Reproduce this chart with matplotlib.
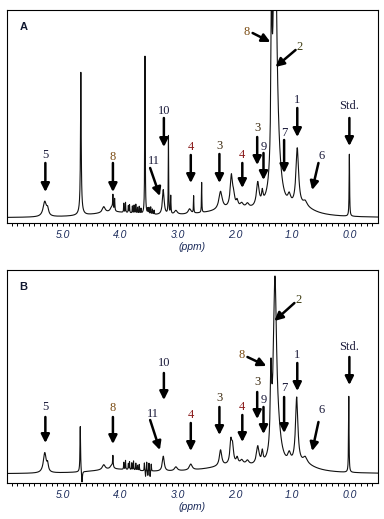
import matplotlib
matplotlib.use('Agg')
import matplotlib.pyplot as plt
import numpy as np

# Peak tables: position (ppm), height, half width (ppm)
a_ppm = [4.1, 2.0, 0.8,
         5.32, 5.27, 4.69, 4.69, 4.29, 4.15, 4.13, 4.10,
         3.94, 3.91, 3.86, 3.84, 3.79, 3.76, 3.73, 3.70, 3.67, 3.64,
         3.57, 3.52, 3.50, 3.47, 3.44, 3.41,
         3.25, 3.16, 3.12, 3.03, 2.79, 2.72, 2.58,
         2.25, 2.06, 2.02, 1.96, 1.88, 1.78,
         1.60, 1.52, 1.36, 1.30, 1.25, 1.05, 0.91, 0.77, 0.0]
a_height = [5, 8, 7,
            15, 6, 135, 8, 6, 5, 14, 12,
            9, 10, 7, 8, 7, 8, 9, 6, 7, 5,
            158, 5, 6, 7, 5, 4,
            25, 78, 18, 4, 5, 17, 30,
            18, 32, 9, 6, 4, 4,
            24, 11, 150, 300, 25, 9, 58, 5, 62]
a_width = [0.5, 0.6, 0.25,
           0.035, 0.02, 0.007, 0.03, 0.03, 0.03, 0.005, 0.005,
           0.004, 0.004, 0.004, 0.004, 0.004, 0.004, 0.004, 0.004, 0.004, 0.004,
           0.005, 0.004, 0.004, 0.004, 0.004, 0.004,
           0.018, 0.004, 0.005, 0.03, 0.03, 0.004, 0.004,
           0.035, 0.025, 0.02, 0.02, 0.03, 0.03,
           0.028, 0.015, 0.012, 0.035, 0.07, 0.03, 0.028, 0.04, 0.005]

b_ppm = [4.1, 2.0, 0.8,
         5.32, 5.27, 4.70, 4.67, 4.29, 4.15, 4.13,
         3.94, 3.91, 3.86, 3.84, 3.80, 3.77, 3.73, 3.70, 3.67,
         3.58, 3.56, 3.54, 3.52, 3.50, 3.48, 3.46,
         3.25, 3.03, 2.77,
         2.25, 2.07, 2.04, 1.96, 1.88, 1.78,
         1.60, 1.52, 1.37, 1.30, 1.25, 1.05, 0.92, 0.77, 0.01]
b_height = [4, 8, 7,
            20, 7, 46, -12, 5, 4, 11,
            7, 9, 6, 8, 7, 9, 7, 5, 6,
            8, -6, 9, -5, 8, -6, 7,
            15, 4, 6,
            16, 22, 16, 6, 4, 4,
            18, 11, 72, 173, 25, 9, 66, 6, 76]
b_width = [0.5, 0.6, 0.25,
           0.03, 0.015, 0.006, 0.008, 0.03, 0.03, 0.005,
           0.004, 0.004, 0.004, 0.004, 0.004, 0.004, 0.004, 0.004, 0.004,
           0.004, 0.004, 0.004, 0.004, 0.004, 0.004, 0.004,
           0.02, 0.03, 0.03,
           0.025, 0.02, 0.02, 0.02, 0.03, 0.03,
           0.028, 0.015, 0.014, 0.033, 0.07, 0.03, 0.025, 0.04, 0.005]

# Assignment labels
labels = ['5', '8', '11', '10', '4', '3', '4', '3', '9', '8', '2', '7', '1', '6', 'Std.']
label_colors = ['#1a1a3a', '#7a4a10', '#1a1a3a', '#1a1a3a', '#8b1c1c', '#3d2b10',
                '#8b1c1c', '#3d2b10', '#1a1a3a', '#7a4a10', '#3d3b10', '#1a1a3a',
                '#1a1a3a', '#1a1a3a', '#1a1a3a']

# label text (ppm, y), arrow tail (ppm, y), arrow head (ppm, y)
a_annot = [((5.31, 63), (5.31, 55), (5.31, 26)),
           ((4.13, 61), (4.13, 55), (4.13, 26)),
           ((3.42, 57), (3.48, 50), (3.31, 22)),
           ((3.24, 107), (3.24, 100), (3.24, 71)),
           ((2.77, 71), (2.77, 63), (2.77, 35)),
           ((2.27, 72), (2.27, 64), (2.27, 35)),
           ((1.87, 63), (1.87, 55), (1.87, 30)),
           ((1.61, 90), (1.61, 81), (1.61, 53)),
           ((1.50, 71), (1.50, 65), (1.50, 38)),
           ((1.79, 186), (1.69, 185), (1.38, 176)),
           ((0.87, 171), (0.94, 168), (1.29, 151)),
           ((1.14, 85), (1.14, 78), (1.14, 45)),
           ((0.91, 118), (0.91, 110), (0.91, 81)),
           ((0.49, 62), (0.54, 55), (0.65, 28)),
           ((0.0, 112), (0.0, 100), (0.0, 72))]
b_annot = [((5.31, 67), (5.31, 57), (5.31, 31)),
           ((4.13, 66), (4.13, 57), (4.13, 30)),
           ((3.43, 60), (3.48, 54), (3.31, 24)),
           ((3.24, 111), (3.24, 101), (3.24, 74)),
           ((2.77, 59), (2.77, 51), (2.77, 23)),
           ((2.27, 76), (2.27, 67), (2.27, 39)),
           ((1.87, 67), (1.87, 59), (1.87, 32)),
           ((1.61, 92), (1.61, 82), (1.61, 55)),
           ((1.50, 74), (1.50, 67), (1.50, 40)),
           ((1.89, 119), (1.78, 117), (1.45, 108)),
           ((0.89, 174), (0.96, 171), (1.31, 153)),
           ((1.14, 86), (1.14, 77), (1.14, 41)),
           ((0.91, 119), (0.91, 111), (0.91, 83)),
           ((0.49, 64), (0.54, 52), (0.65, 23)),
           ((0.0, 127), (0.0, 117), (0.0, 89))]


def spectrum(x, ppm, height, width):

    """ Sum of Lorentzian lines built from a peak table. """

    y = np.zeros_like(x)
    for c, h, w in zip(ppm, height, width):
        y += h * w ** 2 / ((x - c) ** 2 + w ** 2)
    return y


def draw_panel(ax, ppm, height, width, annot, tag, ylim):

    x = np.arange(-0.5, 6.0, 0.001)
    ax.plot(x, spectrum(x, ppm, height, width), color='#111111', lw=0.8)
    ax.set_xlim(5.98, -0.5)
    ax.set_ylim(*ylim)
    ax.set_yticks([])
    ax.set_xticks([5, 4, 3, 2, 1, 0])
    ax.set_xticklabels(['5.0', '4.0', '3.0', '2.0', '1.0', '0.0'],
                       fontstyle='italic', fontsize=7.5, color='#1a2a5a',
                       family='Liberation Sans')
    ax.set_xticks(np.arange(-0.4, 6.0, 0.1), minor=True)
    ax.tick_params(axis='x', which='both', direction='out', length=2.2,
                   width=0.7, pad=2.5)
    for s in ax.spines.values():
        s.set_linewidth(0.8)
    ax.set_xlabel('(ppm)', fontstyle='italic', fontsize=7.5, color='#1a2a5a',
                  family='Liberation Sans', labelpad=1.5)
    ax.text(0.045, 0.92, tag, transform=ax.transAxes, fontsize=8,
            fontweight='bold', color='#101830', family='Liberation Sans',
            ha='center', va='center')
    for lab, col, (t, a0, a1) in zip(labels, label_colors, annot):
        ax.text(t[0], t[1], lab, fontsize=9, color=col,
                family='Liberation Serif', ha='center', va='center')
        ax.annotate('', xy=a1, xytext=a0,
                    arrowprops=dict(arrowstyle='-|>,head_length=0.5,head_width=0.25',
                                    lw=1.8, color='black', mutation_scale=10,
                                    shrinkA=0, shrinkB=0))


fig = plt.figure(figsize=(3.84, 5.19), dpi=100)
ax_a = fig.add_axes([7 / 384, 1 - 223 / 519, 371 / 384, 213 / 519])
ax_b = fig.add_axes([7 / 384, 1 - 483 / 519, 371 / 384, 213 / 519])

draw_panel(ax_a, a_ppm, a_height, a_width, a_annot, 'A', (-5, 208))
draw_panel(ax_b, b_ppm, b_height, b_width, b_annot, 'B', (-9, 204))

fig.savefig('out.png', dpi=100)
